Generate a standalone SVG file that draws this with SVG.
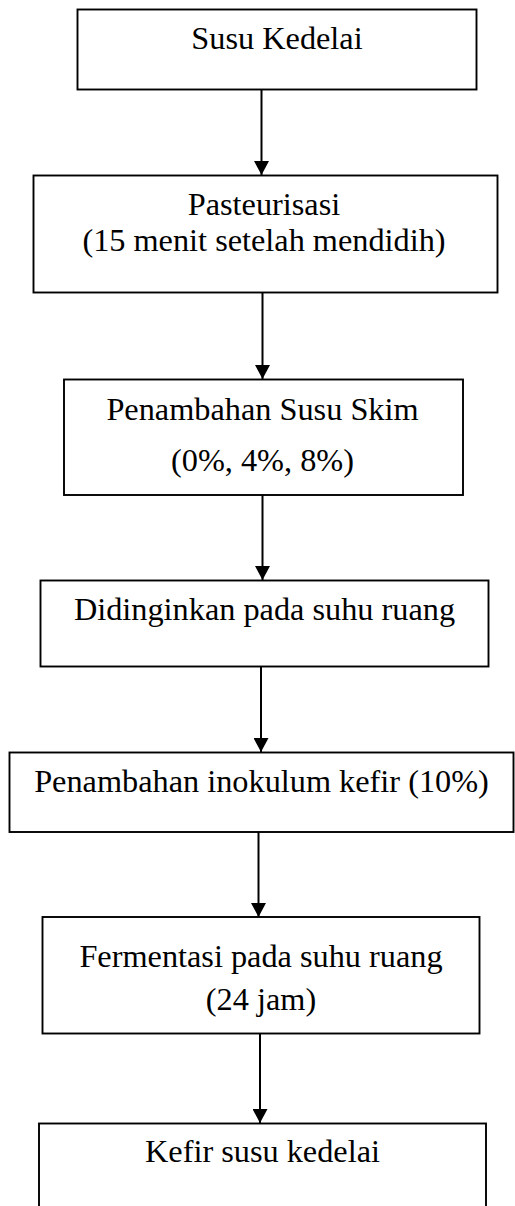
<svg xmlns="http://www.w3.org/2000/svg" width="515" height="1206" viewBox="0 0 515 1206">
<style>
.box{fill:#fff;stroke:#000;stroke-width:1.9}
.t{font-family:"Liberation Serif","Times New Roman",serif;font-size:32.3px;fill:#000;text-anchor:middle}
.c{stroke:#000;stroke-width:2;fill:none}
</style>
<defs>
<marker id="ah" viewBox="0 0 14 15" refX="14" refY="7.5" markerWidth="14" markerHeight="15" markerUnits="userSpaceOnUse" orient="auto">
<path d="M0,0 L14,7.5 L0,15 z" fill="#000"/>
</marker>
</defs>
<rect width="515" height="1206" fill="#fff"/>
<g id="connectors">
<line class="c" x1="261.5" y1="90" x2="261.5" y2="175" marker-end="url(#ah)"/>
<line class="c" x1="262.5" y1="293" x2="262.5" y2="379" marker-end="url(#ah)"/>
<line class="c" x1="262.5" y1="495" x2="262.5" y2="580" marker-end="url(#ah)"/>
<line class="c" x1="261" y1="667" x2="261" y2="752" marker-end="url(#ah)"/>
<line class="c" x1="258.5" y1="832" x2="258.5" y2="917" marker-end="url(#ah)"/>
<line class="c" x1="260" y1="1034" x2="260" y2="1123" marker-end="url(#ah)"/>
</g>
<g id="n1">
<rect class="box" x="77.5" y="9.5" width="399" height="80"/>
<text class="t" x="277" y="49">Susu Kedelai</text>
</g>
<g id="n2">
<rect class="box" x="33.5" y="175.5" width="464" height="117"/>
<text class="t" x="264" y="215">Pasteurisasi</text>
<text class="t" x="264" y="250.5">(15 menit setelah mendidih)</text>
</g>
<g id="n3">
<rect class="box" x="64" y="379.5" width="399" height="115.5"/>
<text class="t" x="262.5" y="419.5">Penambahan Susu Skim</text>
<text class="t" x="262.5" y="470.5">(0%, 4%, 8%)</text>
</g>
<g id="n4">
<rect class="box" x="40.5" y="580.5" width="448" height="86"/>
<text class="t" x="264.5" y="620">Didinginkan pada suhu ruang</text>
</g>
<g id="n5">
<rect class="box" x="9.5" y="752.5" width="504" height="79.5"/>
<text class="t" x="261.5" y="791.5">Penambahan inokulum kefir (10%)</text>
</g>
<g id="n6">
<rect class="box" x="42.5" y="917" width="437" height="116.5"/>
<text class="t" x="261" y="966.5">Fermentasi pada suhu ruang</text>
<text class="t" x="261" y="1010">(24 jam)</text>
</g>
<g id="n7">
<rect class="box" x="39" y="1123.5" width="447" height="100"/>
<text class="t" x="262.5" y="1161.5">Kefir susu kedelai</text>
</g>
</svg>
